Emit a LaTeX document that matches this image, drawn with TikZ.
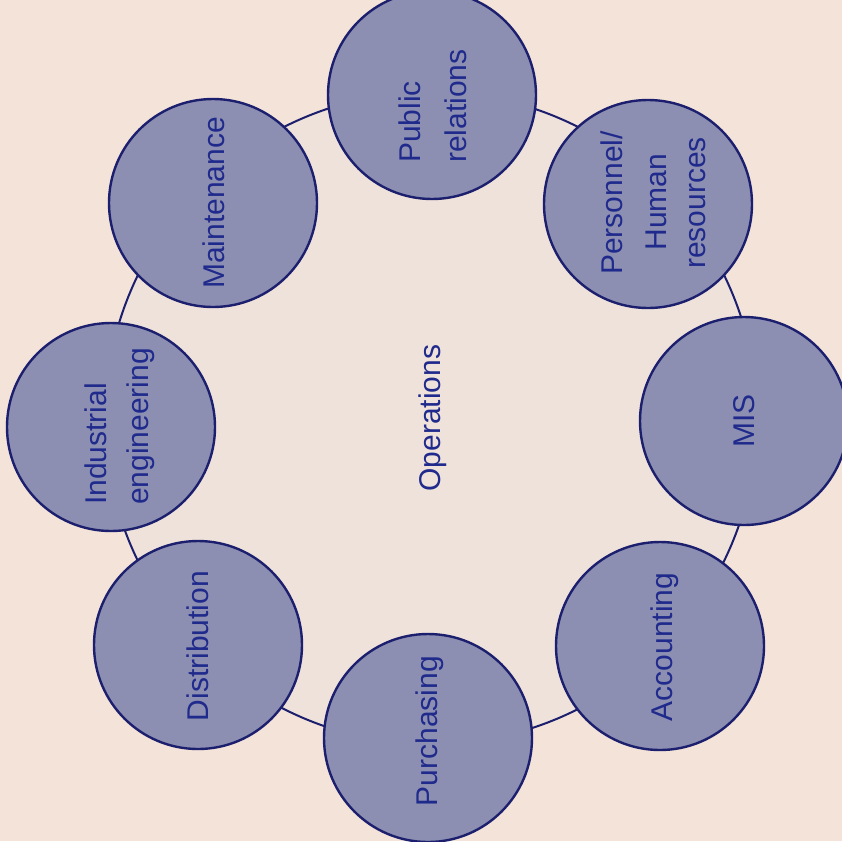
\documentclass[tikz,border=0pt]{standalone}
\usepackage{fontspec}
\setmainfont{Liberation Sans}
\definecolor{bgc}{HTML}{F3E3D8}
\definecolor{innerc}{HTML}{EFE2DA}
\definecolor{fillc}{HTML}{8C8FB1}
\definecolor{inkc}{HTML}{1C1F6E}
\definecolor{textc}{HTML}{1F2A8C}
\begin{document}
\begin{tikzpicture}[x=1pt,y=-1pt,
  ringstyle/.style={circle, draw=inkc, line width=2pt, fill=innerc, minimum size=652pt, inner sep=0pt},
  unit/.style={circle, draw=inkc, line width=2.4pt, fill=fillc, minimum size=208pt, inner sep=0pt},
  lbl/.style={rotate=90, text=textc, font=\fontsize{30}{36}\selectfont, inner sep=0pt}]
\fill[bgc] (0,0) rectangle (842,841);
\useasboundingbox (0,0) rectangle (842,841);
\node[ringstyle] (ring) at (431,418) {};
\node[unit] (pr) at (432,95) {};
\node[unit] (hr) at (648,204) {};
\node[unit] (mis) at (744,421) {};
\node[unit] (acc) at (660,646) {};
\node[unit] (pur) at (428,738) {};
\node[unit] (dis) at (198,645) {};
\node[unit] (ie) at (111,427) {};
\node[unit] (mt) at (213,203) {};
\node[lbl, anchor=base] (tops) at (440,418) {Operations};
\node[lbl, anchor=base west] (tpr1) at (420,163) {Public};
\node[lbl, anchor=base west] (tpr2) at (466,163) {relations};
\node[lbl, anchor=base] (thr1) at (622,203) {Personnel/};
\node[lbl, anchor=base] (thr2) at (666,202) {Human};
\node[lbl, anchor=base] (thr3) at (705,203) {resources};
\node[lbl, anchor=base] (tmis) at (754,421) {MIS};
\node[lbl, anchor=base] (tacc) at (672,647) {Accounting};
\node[lbl, anchor=base] (tpur) at (437,731) {Purchasing};
\node[lbl, anchor=base] (tdis) at (208,646) {Distribution};
\node[lbl, anchor=base west] (tie1) at (106,505) {Industrial};
\node[lbl, anchor=base west] (tie2) at (148,505) {engineering};
\node[lbl, anchor=base] (tmt) at (224,203) {Maintenance};
\end{tikzpicture}
\end{document}
